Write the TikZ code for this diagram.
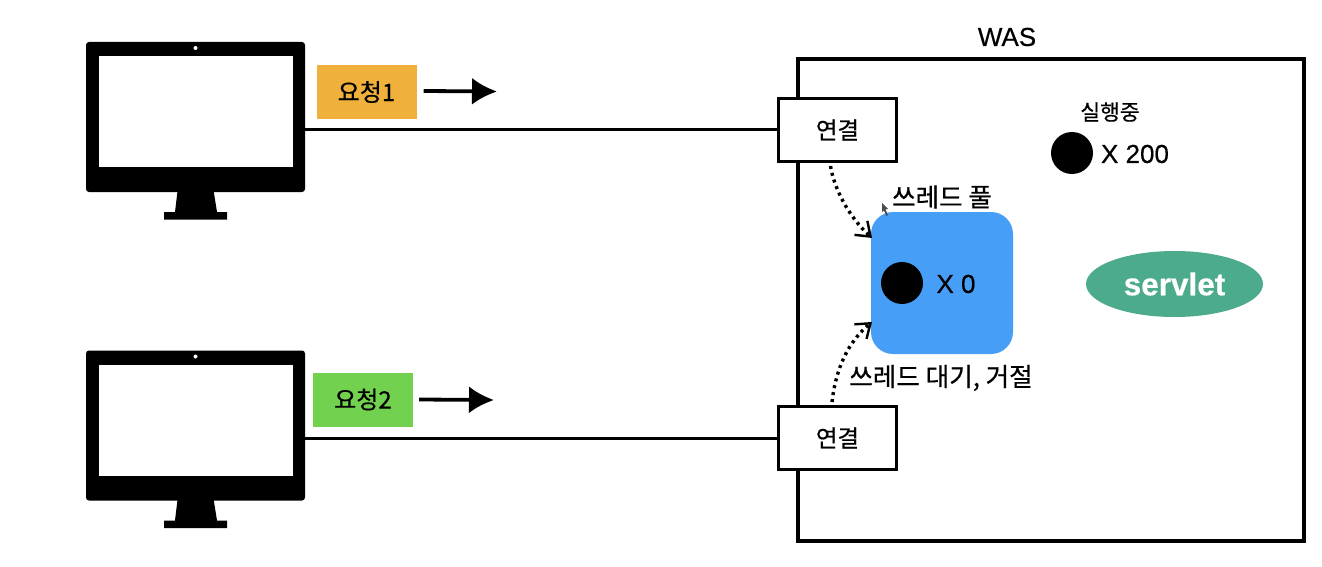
\documentclass[tikz,border=0pt]{standalone}
\usepackage{fontspec}
\setmainfont[FakeBold=0.5]{Noto Sans CJK KR}
\newfontfamily\latinmed[FakeBold=0.5]{Liberation Sans}
\newfontfamily\latinbold[FakeBold=0.4]{Liberation Sans Bold}
\usetikzlibrary{arrows.meta,calc,shapes.geometric}
\definecolor{reqA}{HTML}{EFB13B}
\definecolor{reqB}{HTML}{72D24F}
\definecolor{pool}{HTML}{479EF7}
\definecolor{srv}{HTML}{4CAB8C}
\tikzset{
  x=1pt,y=-1pt,
  monbody/.style={fill=black,rounded corners=3pt,minimum width=219pt,minimum height=150pt,inner sep=0pt},
  reqbox/.style={minimum width=100pt,minimum height=54pt,inner sep=0pt,font=\fontsize{24}{28}\selectfont},
  connbox/.style={draw=black,line width=3pt,fill=white,minimum width=118pt,minimum height=63pt,inner sep=0pt,font=\fontsize{23.5}{26}\selectfont},
  lbl/.style={inner sep=0pt,font=\fontsize{25.6}{28}\selectfont},
  latlbl/.style={inner sep=0pt,font=\fontsize{26}{28}\selectfont\latinmed},
  dot/.style={circle,fill=black,minimum size=42pt,inner sep=0pt},
  wire/.style={line width=3pt,black},
  flow/.style={line width=3.4pt,dash pattern=on 3pt off 4pt,-{Straight Barb[length=13pt,width=19pt,line width=2.4pt]}},
  sendarrow/.style={line width=3.8pt,-{Latex[length=25pt,width=27pt]}}
}
\newcommand{\monitor}[2]{%
  \node[monbody] (#1) at (195.5,#2) {};
  \fill[black] (178,#2+70) -- (213,#2+70) -- (217,#2+95) -- (227,#2+95) -- (227,#2+102.5) -- (164,#2+102.5) -- (164,#2+95) -- (175,#2+95) -- cycle;
  \fill[white] (99,#2-61) rectangle (293,#2+50);
  \fill[white] (195.5,#2-69) circle (2pt);
}
\begin{document}
\begin{tikzpicture}
\useasboundingbox (0,0) rectangle (1322,567);
\fill[white] (0,0) rectangle (1322,567);
% monitors
\monitor{monA}{117}
\monitor{monB}{425.5}
% WAS
\node[draw=black,line width=3.2pt,minimum width=506pt,minimum height=482pt,inner sep=0pt] (was) at (1051,300) {};
\node[latlbl] (waslabel) at (1007,37) {WAS};
% connection boxes
\node[connbox] (connA) at (837.5,130) {연결};
\node[connbox] (connB) at (837.5,438) {연결};
\draw[wire] (monA.east |- connA.west) -- (connA.west);
\draw[wire] (monB.east |- connB.west) -- (connB.west);
% requests
\node[reqbox,fill=reqA] (reqA) at (366.5,92) {요청1};
\node[reqbox,fill=reqB] (reqB) at (363,399.5) {요청2};
\coordinate (reqAend) at (497,91.5);
\coordinate (reqBend) at (494,400);
\draw[sendarrow] ($(reqA.east)+(7,-1)$) -- (reqAend);
\draw[sendarrow] ($(reqB.east)+(6,0)$) -- (reqBend);
% pool
\node[fill=pool,rounded corners=22pt,minimum width=142pt,minimum height=142pt,inner sep=0pt] (pool) at (942,283) {};
\node[dot] (dotpool) at (902,283) {};
\node[latlbl] (xzero) at (956,284) {X 0};
\node[lbl] (poollabel) at (942,197) {쓰레드 풀};
\node[lbl] (waitlabel) at (941,378) {쓰레드 대기, 거절};
\fill[black!70] (882,203) -- (882,212) -- (884,210.5) -- (886.5,216) -- (888,215) -- (885.5,209.5) -- (888,209) -- cycle;
% flows
\coordinate (poolA) at (872,238);
\coordinate (poolB) at (872,322);
\draw[flow] ($(connA.south west)+(53.5,3)$) .. controls (834,188) and (848,216) .. (poolA);
\draw[flow] ($(connB.north west)+(55,-3)$) .. controls (836,368) and (848,342) .. (poolB);
% running
\node[inner sep=0pt,font=\fontsize{21.5}{24}\selectfont] (runlabel) at (1110,112) {실행중};
\node[dot] (dotrun) at (1072,153) {};
\node[latlbl] (xrun) at (1135,154) {X 200};
% servlet
\node[ellipse,fill=srv,minimum width=177pt,minimum height=66pt,inner sep=0pt,text=white,font=\fontsize{31.5}{34}\selectfont\latinbold] (servlet) at (1174.5,284) {servlet};
\end{tikzpicture}
\end{document}
